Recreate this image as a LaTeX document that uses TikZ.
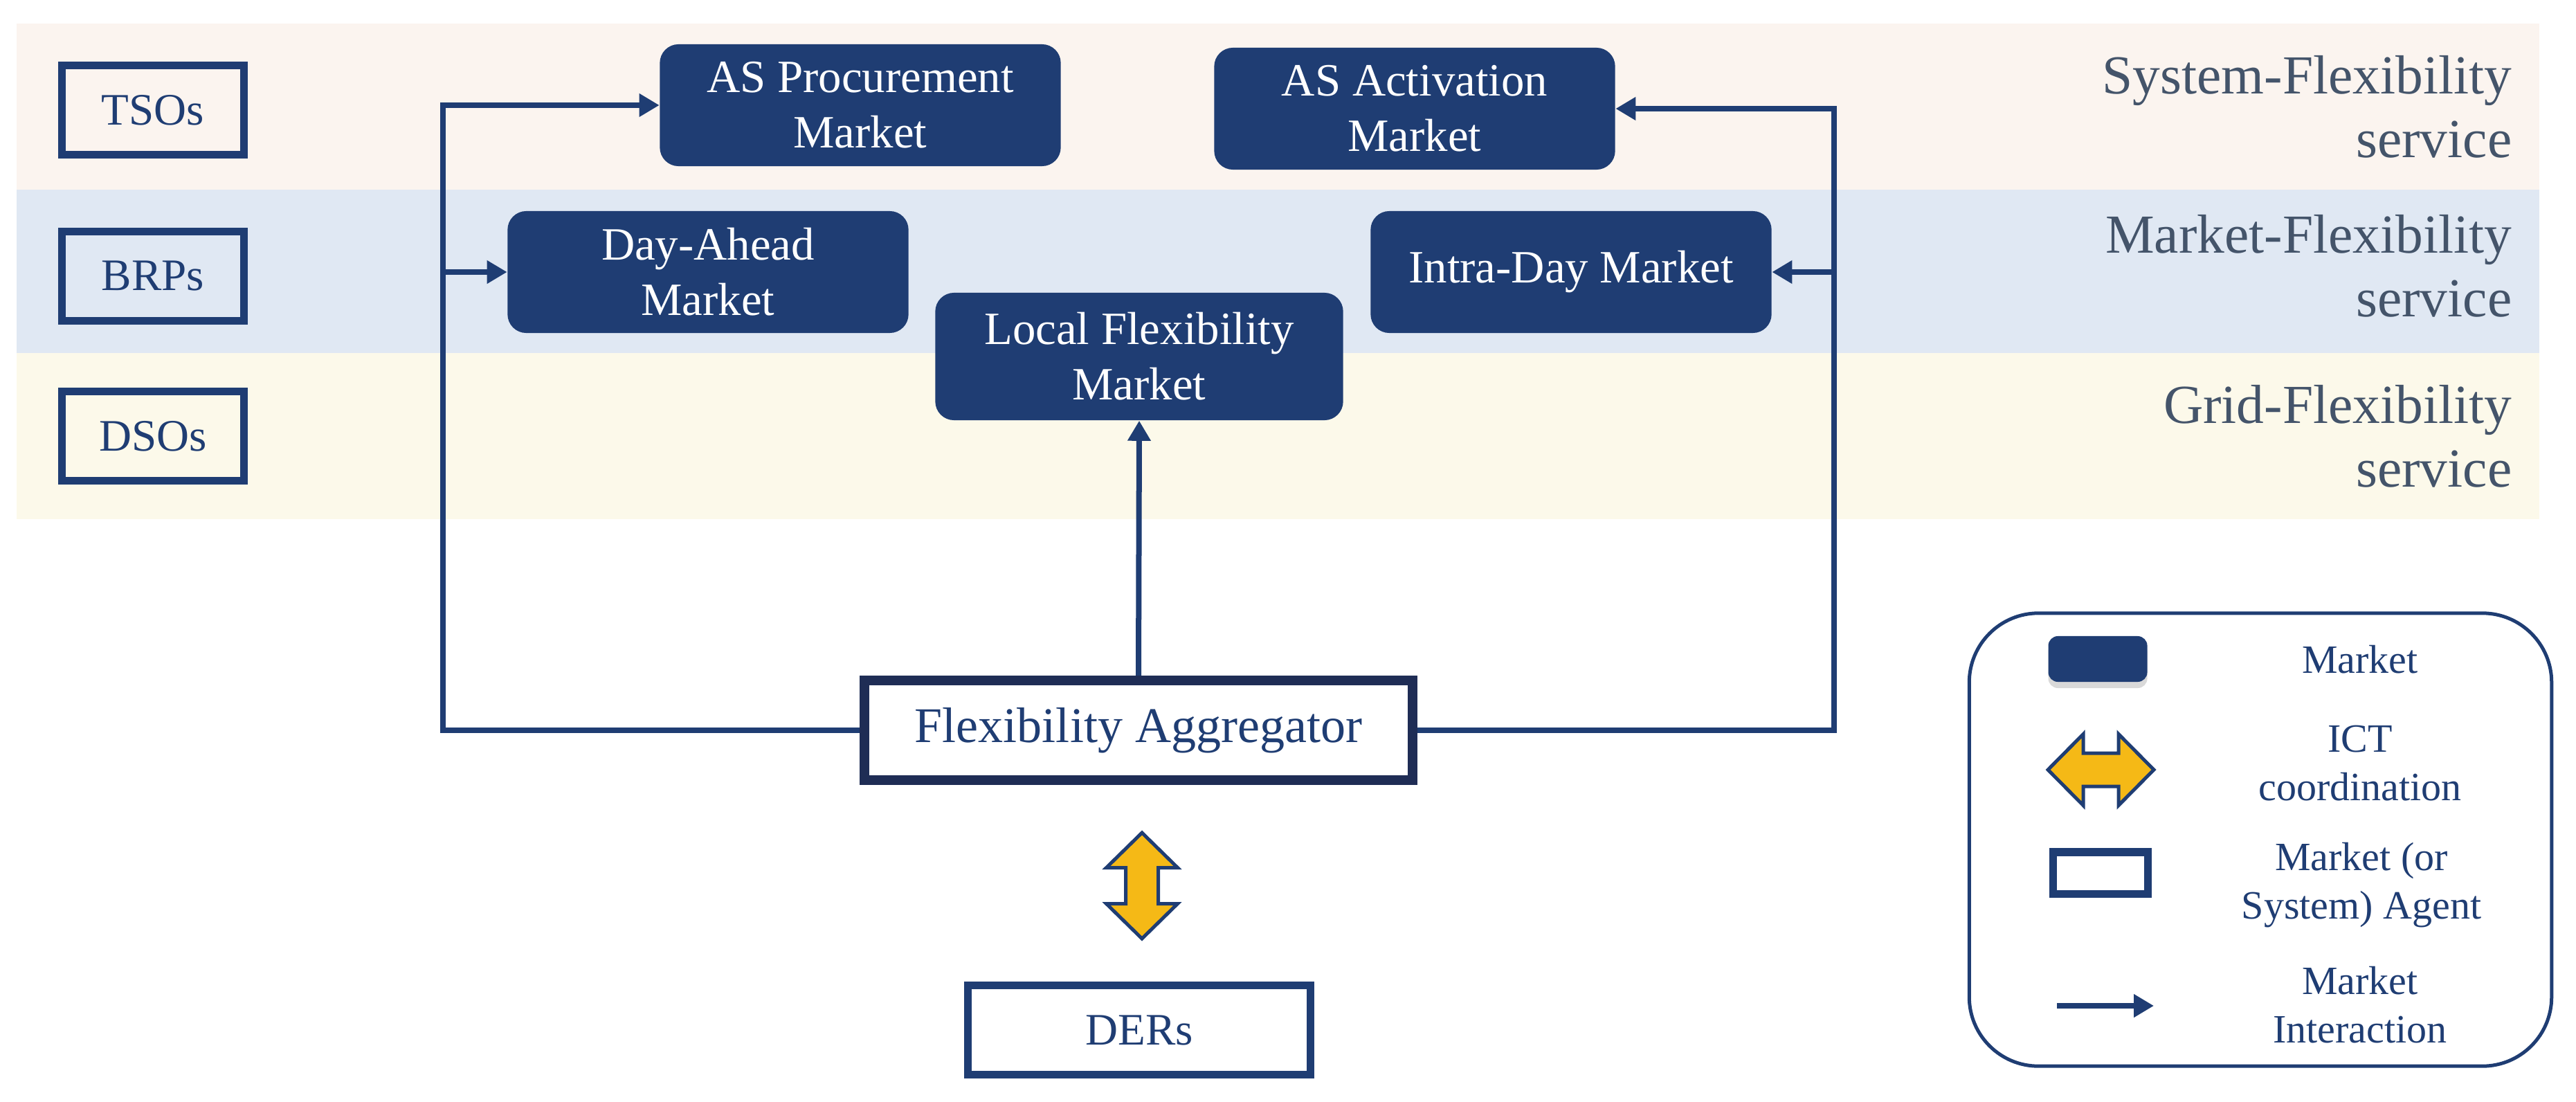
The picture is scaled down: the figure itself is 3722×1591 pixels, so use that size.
\documentclass[tikz,border=0pt]{standalone}
\usepackage{fontspec}
\setmainfont{Liberation Serif}
\usetikzlibrary{arrows.meta, shadows}
\definecolor{mktblue}{HTML}{1F3D73}
\definecolor{aggblue}{HTML}{1F2D55}
\definecolor{servgray}{HTML}{44546A}
\definecolor{ictgold}{HTML}{F5B916}
\definecolor{bandsys}{HTML}{FBF4EF}
\definecolor{bandmkt}{HTML}{E0E8F3}
\definecolor{bandgrid}{HTML}{FCF9EA}

\begin{document}
\begin{tikzpicture}[x=0.01cm, y=-0.01cm]
      \tikzset{market/.style={fill=mktblue, rounded corners=0.27cm, text=white, align=center, minimum width=5.79cm, minimum height=1.76cm, font=\fontsize{19}{22.8}\selectfont},
        agent/.style={draw=mktblue, line width=0.11cm, text=mktblue, minimum width=2.63cm, minimum height=1.29cm, font=\fontsize{18.5}{22}\selectfont},
        service/.style={anchor=east, inner sep=0pt, align=right, text=servgray, font=\fontsize{22.6}{26.2}\selectfont},
        flow/.style={draw=mktblue, line width=0.08cm, -{Triangle[length=0.29cm, width=0.32cm]}},
        ict/.style={draw=mktblue, line width=0.05cm, fill=ictgold, line join=miter},
        legtext/.style={text=mktblue, align=center, font=\fontsize{16.5}{19.9}\selectfont}}
      \useasboundingbox (0,0) rectangle (3722,1591);
      % service bands
      \fill[bandsys] (24,34) rectangle (3669,274);
      \fill[bandmkt] (24,274) rectangle (3669,510);
      \fill[bandgrid] (24,510) rectangle (3669,750);
      \node[service] (sys) at (3630,154) {System-Flexibility\\service};
      \node[service] (mkt) at (3630,384) {Market-Flexibility\\service};
      \node[service] (grid) at (3630,630) {Grid-Flexibility\\service};
      % agents
      \node[agent] (tso) at (221,159) {TSOs};
      \node[agent] (brp) at (221,399) {BRPs};
      \node[agent] (dso) at (221,630) {DSOs};
      % markets
      \node[market] (asp) at (1243,152) {AS Procurement\\Market};
      \node[market] (asa) at (2044,157) {AS Activation\\Market};
      \node[market] (da) at (1023,393) {Day-Ahead\\Market};
      \node[market] (id) at (2270,393) {Intra-Day Market};
      \node[market, minimum width=5.89cm, minimum height=1.84cm] (lfm) at (1646,515) {Local Flexibility\\Market};
      \node[agent, draw=aggblue, line width=0.14cm, minimum width=7.92cm, minimum height=1.44cm, font=\fontsize{20.5}{24}\selectfont] (agg) at (1645,1055) {Flexibility Aggregator};
      \node[agent, minimum width=4.94cm] (der) at (1646,1488) {DERs};
      % market interaction
      \coordinate (lbus) at (640,0);
      \coordinate (rbus) at (2650,0);
      \draw[flow] (agg.west) -| (lbus |- asp.west) -- (asp.west);
      \draw[flow] (lbus |- da.west) -- (da.west);
      \draw[flow] (agg.east) -| (rbus |- asa.east) -- (asa.east);
      \draw[flow] (rbus |- id.east) -- (id.east);
      \draw[flow] (agg.north) -- (lfm.south);
      % ICT coordination
      \draw[ict, shift={(1650,1279.5)}] (0,-76.5) -- (51.5,-26) -- (23.5,-26) -- (23.5,26) -- (51.5,26) -- (0,76.5) -- (-51.5,26) -- (-23.5,26) -- (-23.5,-26) -- (-51.5,-26) -- cycle;
      % legend
      \node[draw=mktblue, line width=0.05cm, rounded corners=1cm, minimum width=8.41cm, minimum height=6.54cm] (legend) at (3266,1213) {};
      \node[fill=mktblue, rounded corners=0.14cm, minimum width=1.43cm, minimum height=0.66cm, drop shadow={opacity=0.3, shadow xshift=0cm, shadow yshift=-0.09cm}] (legmkt) at (3031,952) {};
      \draw[ict, shift={(3035.5,1112)}, rotate=90] (0,-76.5) -- (51.5,-25.5) -- (24,-25.5) -- (24,25.5) -- (51.5,25.5) -- (0,76.5) -- (-51.5,25.5) -- (-24,25.5) -- (-24,-25.5) -- (-51.5,-25.5) -- cycle;
      \node[agent, minimum width=1.37cm, minimum height=0.6cm] (legagent) at (3035,1261) {};
      \coordinate (legarrs) at (2972,1453);
      \coordinate (legarre) at (3112,1453);
      \draw[flow] (legarrs) -- (legarre);
      \node[legtext] (txtmkt) at (3410,953) {Market};
      \node[legtext] (txtict) at (3410,1103) {ICT\\coordination};
      \node[legtext] (txtagent) at (3412,1279) {Market (or\\System) Agent};
      \node[legtext] (txtflow) at (3410,1452) {Market\\Interaction};
    \end{tikzpicture}
\end{document}
